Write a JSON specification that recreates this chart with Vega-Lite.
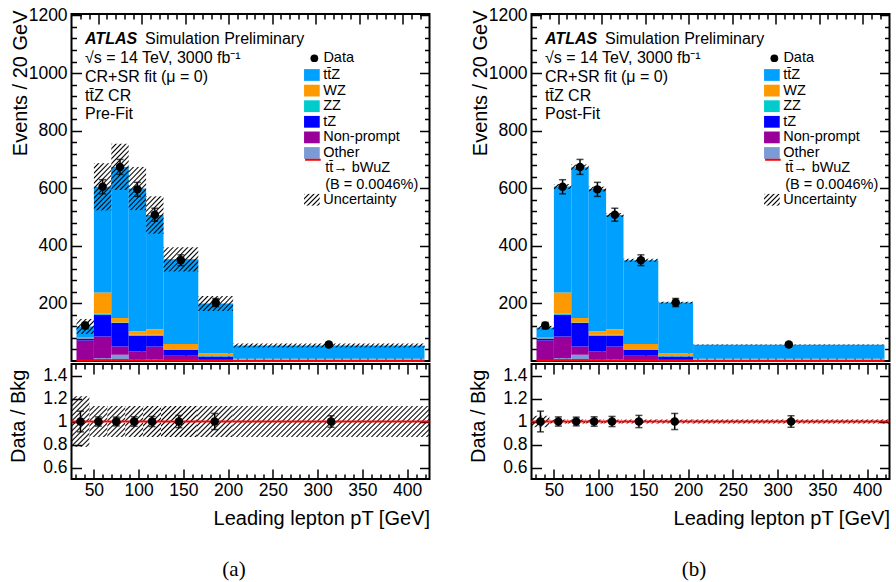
{
"$schema": "https://vega.github.io/schema/vega-lite/v6.json",
"background": "white",
"padding": {"left": 7.5, "top": 5, "right": 3, "bottom": 3},
"params": [{"name": "hs", "value": [
{"offset":0,"color":"#000"},{"offset":0.00625,"color":"#0000"},{"offset":0.01458,"color":"#0000"},
{"offset":0.02083,"color":"#000"},{"offset":0.02708,"color":"#0000"},{"offset":0.03542,"color":"#0000"},
{"offset":0.04167,"color":"#000"},{"offset":0.04792,"color":"#0000"},{"offset":0.05625,"color":"#0000"},
{"offset":0.0625,"color":"#000"},{"offset":0.06875,"color":"#0000"},{"offset":0.07708,"color":"#0000"},
{"offset":0.08333,"color":"#000"},{"offset":0.08958,"color":"#0000"},{"offset":0.09792,"color":"#0000"},
{"offset":0.10417,"color":"#000"},{"offset":0.11042,"color":"#0000"},{"offset":0.11875,"color":"#0000"},
{"offset":0.125,"color":"#000"},{"offset":0.13125,"color":"#0000"},{"offset":0.13958,"color":"#0000"},
{"offset":0.14583,"color":"#000"},{"offset":0.15208,"color":"#0000"},{"offset":0.16042,"color":"#0000"},
{"offset":0.16667,"color":"#000"},{"offset":0.17292,"color":"#0000"},{"offset":0.18125,"color":"#0000"},
{"offset":0.1875,"color":"#000"},{"offset":0.19375,"color":"#0000"},{"offset":0.20208,"color":"#0000"},
{"offset":0.20833,"color":"#000"},{"offset":0.21458,"color":"#0000"},{"offset":0.22292,"color":"#0000"},
{"offset":0.22917,"color":"#000"},{"offset":0.23542,"color":"#0000"},{"offset":0.24375,"color":"#0000"},
{"offset":0.25,"color":"#000"},{"offset":0.25625,"color":"#0000"},{"offset":0.26458,"color":"#0000"},
{"offset":0.27083,"color":"#000"},{"offset":0.27708,"color":"#0000"},{"offset":0.28542,"color":"#0000"},
{"offset":0.29167,"color":"#000"},{"offset":0.29792,"color":"#0000"},{"offset":0.30625,"color":"#0000"},
{"offset":0.3125,"color":"#000"},{"offset":0.31875,"color":"#0000"},{"offset":0.32708,"color":"#0000"},
{"offset":0.33333,"color":"#000"},{"offset":0.33958,"color":"#0000"},{"offset":0.34792,"color":"#0000"},
{"offset":0.35417,"color":"#000"},{"offset":0.36042,"color":"#0000"},{"offset":0.36875,"color":"#0000"},
{"offset":0.375,"color":"#000"},{"offset":0.38125,"color":"#0000"},{"offset":0.38958,"color":"#0000"},
{"offset":0.39583,"color":"#000"},{"offset":0.40208,"color":"#0000"},{"offset":0.41042,"color":"#0000"},
{"offset":0.41667,"color":"#000"},{"offset":0.42292,"color":"#0000"},{"offset":0.43125,"color":"#0000"},
{"offset":0.4375,"color":"#000"},{"offset":0.44375,"color":"#0000"},{"offset":0.45208,"color":"#0000"},
{"offset":0.45833,"color":"#000"},{"offset":0.46458,"color":"#0000"},{"offset":0.47292,"color":"#0000"},
{"offset":0.47917,"color":"#000"},{"offset":0.48542,"color":"#0000"},{"offset":0.49375,"color":"#0000"},
{"offset":0.5,"color":"#000"},{"offset":0.50625,"color":"#0000"},{"offset":0.51458,"color":"#0000"},
{"offset":0.52083,"color":"#000"},{"offset":0.52708,"color":"#0000"},{"offset":0.53542,"color":"#0000"},
{"offset":0.54167,"color":"#000"},{"offset":0.54792,"color":"#0000"},{"offset":0.55625,"color":"#0000"},
{"offset":0.5625,"color":"#000"},{"offset":0.56875,"color":"#0000"},{"offset":0.57708,"color":"#0000"},
{"offset":0.58333,"color":"#000"},{"offset":0.58958,"color":"#0000"},{"offset":0.59792,"color":"#0000"},
{"offset":0.60417,"color":"#000"},{"offset":0.61042,"color":"#0000"},{"offset":0.61875,"color":"#0000"},
{"offset":0.625,"color":"#000"},{"offset":0.63125,"color":"#0000"},{"offset":0.63958,"color":"#0000"},
{"offset":0.64583,"color":"#000"},{"offset":0.65208,"color":"#0000"},{"offset":0.66042,"color":"#0000"},
{"offset":0.66667,"color":"#000"},{"offset":0.67292,"color":"#0000"},{"offset":0.68125,"color":"#0000"},
{"offset":0.6875,"color":"#000"},{"offset":0.69375,"color":"#0000"},{"offset":0.70208,"color":"#0000"},
{"offset":0.70833,"color":"#000"},{"offset":0.71458,"color":"#0000"},{"offset":0.72292,"color":"#0000"},
{"offset":0.72917,"color":"#000"},{"offset":0.73542,"color":"#0000"},{"offset":0.74375,"color":"#0000"},
{"offset":0.75,"color":"#000"},{"offset":0.75625,"color":"#0000"},{"offset":0.76458,"color":"#0000"},
{"offset":0.77083,"color":"#000"},{"offset":0.77708,"color":"#0000"},{"offset":0.78542,"color":"#0000"},
{"offset":0.79167,"color":"#000"},{"offset":0.79792,"color":"#0000"},{"offset":0.80625,"color":"#0000"},
{"offset":0.8125,"color":"#000"},{"offset":0.81875,"color":"#0000"},{"offset":0.82708,"color":"#0000"},
{"offset":0.83333,"color":"#000"},{"offset":0.83958,"color":"#0000"},{"offset":0.84792,"color":"#0000"},
{"offset":0.85417,"color":"#000"},{"offset":0.86042,"color":"#0000"},{"offset":0.86875,"color":"#0000"},
{"offset":0.875,"color":"#000"},{"offset":0.88125,"color":"#0000"},{"offset":0.88958,"color":"#0000"},
{"offset":0.89583,"color":"#000"},{"offset":0.90208,"color":"#0000"},{"offset":0.91042,"color":"#0000"},
{"offset":0.91667,"color":"#000"},{"offset":0.92292,"color":"#0000"},{"offset":0.93125,"color":"#0000"},
{"offset":0.9375,"color":"#000"},{"offset":0.94375,"color":"#0000"},{"offset":0.95208,"color":"#0000"},
{"offset":0.95833,"color":"#000"},{"offset":0.96458,"color":"#0000"},{"offset":0.97292,"color":"#0000"},
{"offset":0.97917,"color":"#000"},{"offset":0.98542,"color":"#0000"},{"offset":0.99375,"color":"#0000"},
{"offset":1,"color":"#000"}
]}],
"datasets": {
"pre": [
{"lo":25,"hi":45,"p":"Other","o":1,"v":2},{"lo":25,"hi":45,"p":"Non-prompt","o":2,"v":69},{"lo":25,"hi":45,"p":"tZ","o":3,"v":7},{"lo":25,"hi":45,"p":"ZZ","o":4,"v":1},{"lo":25,"hi":45,"p":"WZ","o":5,"v":2},{"lo":25,"hi":45,"p":"tt\u0304Z","o":6,"v":39},
{"lo":45,"hi":65,"p":"Other","o":1,"v":10},{"lo":45,"hi":65,"p":"Non-prompt","o":2,"v":75},{"lo":45,"hi":65,"p":"tZ","o":3,"v":76},{"lo":45,"hi":65,"p":"ZZ","o":4,"v":3},{"lo":45,"hi":65,"p":"WZ","o":5,"v":74},{"lo":45,"hi":65,"p":"tt\u0304Z","o":6,"v":367},
{"lo":65,"hi":85,"p":"Other","o":1,"v":22},{"lo":65,"hi":85,"p":"Non-prompt","o":2,"v":28},{"lo":65,"hi":85,"p":"tZ","o":3,"v":82},{"lo":65,"hi":85,"p":"ZZ","o":4,"v":2},{"lo":65,"hi":85,"p":"WZ","o":5,"v":15},{"lo":65,"hi":85,"p":"tt\u0304Z","o":6,"v":525},
{"lo":85,"hi":105,"p":"Other","o":1,"v":5},{"lo":85,"hi":105,"p":"Non-prompt","o":2,"v":28},{"lo":85,"hi":105,"p":"tZ","o":3,"v":55},{"lo":85,"hi":105,"p":"ZZ","o":4,"v":3},{"lo":85,"hi":105,"p":"WZ","o":5,"v":12},{"lo":85,"hi":105,"p":"tt\u0304Z","o":6,"v":496},
{"lo":105,"hi":125,"p":"Other","o":1,"v":6},{"lo":105,"hi":125,"p":"Non-prompt","o":2,"v":44},{"lo":105,"hi":125,"p":"tZ","o":3,"v":38},{"lo":105,"hi":125,"p":"ZZ","o":4,"v":3},{"lo":105,"hi":125,"p":"WZ","o":5,"v":19},{"lo":105,"hi":125,"p":"tt\u0304Z","o":6,"v":397},
{"lo":125,"hi":165,"p":"Other","o":1,"v":3},{"lo":125,"hi":165,"p":"Non-prompt","o":2,"v":15},{"lo":125,"hi":165,"p":"tZ","o":3,"v":21},{"lo":125,"hi":165,"p":"ZZ","o":4,"v":2},{"lo":125,"hi":165,"p":"WZ","o":5,"v":18},{"lo":125,"hi":165,"p":"tt\u0304Z","o":6,"v":294},
{"lo":165,"hi":205,"p":"Other","o":1,"v":1},{"lo":165,"hi":205,"p":"Non-prompt","o":2,"v":6},{"lo":165,"hi":205,"p":"tZ","o":3,"v":9},{"lo":165,"hi":205,"p":"ZZ","o":4,"v":1},{"lo":165,"hi":205,"p":"WZ","o":5,"v":10},{"lo":165,"hi":205,"p":"tt\u0304Z","o":6,"v":173},
{"lo":205,"hi":425,"p":"Other","o":1,"v":0.5},{"lo":205,"hi":425,"p":"Non-prompt","o":2,"v":2},{"lo":205,"hi":425,"p":"tZ","o":3,"v":2},{"lo":205,"hi":425,"p":"ZZ","o":4,"v":0.5},{"lo":205,"hi":425,"p":"WZ","o":5,"v":3},{"lo":205,"hi":425,"p":"tt\u0304Z","o":6,"v":46}
],
"post": [
{"lo":25,"hi":45,"p":"Other","o":1,"v":2},{"lo":25,"hi":45,"p":"Non-prompt","o":2,"v":69},{"lo":25,"hi":45,"p":"tZ","o":3,"v":7},{"lo":25,"hi":45,"p":"ZZ","o":4,"v":1},{"lo":25,"hi":45,"p":"WZ","o":5,"v":2},{"lo":25,"hi":45,"p":"tt\u0304Z","o":6,"v":35},
{"lo":45,"hi":65,"p":"Other","o":1,"v":10},{"lo":45,"hi":65,"p":"Non-prompt","o":2,"v":75},{"lo":45,"hi":65,"p":"tZ","o":3,"v":76},{"lo":45,"hi":65,"p":"ZZ","o":4,"v":3},{"lo":45,"hi":65,"p":"WZ","o":5,"v":74},{"lo":45,"hi":65,"p":"tt\u0304Z","o":6,"v":368},
{"lo":65,"hi":85,"p":"Other","o":1,"v":22},{"lo":65,"hi":85,"p":"Non-prompt","o":2,"v":28},{"lo":65,"hi":85,"p":"tZ","o":3,"v":82},{"lo":65,"hi":85,"p":"ZZ","o":4,"v":2},{"lo":65,"hi":85,"p":"WZ","o":5,"v":15},{"lo":65,"hi":85,"p":"tt\u0304Z","o":6,"v":524},
{"lo":85,"hi":105,"p":"Other","o":1,"v":5},{"lo":85,"hi":105,"p":"Non-prompt","o":2,"v":28},{"lo":85,"hi":105,"p":"tZ","o":3,"v":55},{"lo":85,"hi":105,"p":"ZZ","o":4,"v":3},{"lo":85,"hi":105,"p":"WZ","o":5,"v":12},{"lo":85,"hi":105,"p":"tt\u0304Z","o":6,"v":494},
{"lo":105,"hi":125,"p":"Other","o":1,"v":6},{"lo":105,"hi":125,"p":"Non-prompt","o":2,"v":44},{"lo":105,"hi":125,"p":"tZ","o":3,"v":38},{"lo":105,"hi":125,"p":"ZZ","o":4,"v":3},{"lo":105,"hi":125,"p":"WZ","o":5,"v":19},{"lo":105,"hi":125,"p":"tt\u0304Z","o":6,"v":397},
{"lo":125,"hi":165,"p":"Other","o":1,"v":3},{"lo":125,"hi":165,"p":"Non-prompt","o":2,"v":15},{"lo":125,"hi":165,"p":"tZ","o":3,"v":21},{"lo":125,"hi":165,"p":"ZZ","o":4,"v":2},{"lo":125,"hi":165,"p":"WZ","o":5,"v":18},{"lo":125,"hi":165,"p":"tt\u0304Z","o":6,"v":291},
{"lo":165,"hi":205,"p":"Other","o":1,"v":1},{"lo":165,"hi":205,"p":"Non-prompt","o":2,"v":6},{"lo":165,"hi":205,"p":"tZ","o":3,"v":9},{"lo":165,"hi":205,"p":"ZZ","o":4,"v":1},{"lo":165,"hi":205,"p":"WZ","o":5,"v":10},{"lo":165,"hi":205,"p":"tt\u0304Z","o":6,"v":176},
{"lo":205,"hi":425,"p":"Other","o":1,"v":0.5},{"lo":205,"hi":425,"p":"Non-prompt","o":2,"v":2},{"lo":205,"hi":425,"p":"tZ","o":3,"v":2},{"lo":205,"hi":425,"p":"ZZ","o":4,"v":0.5},{"lo":205,"hi":425,"p":"WZ","o":5,"v":3},{"lo":205,"hi":425,"p":"tt\u0304Z","o":6,"v":48}
],
"upre": [
{"b":1,"lo":25,"hi":45,"yl":94,"yh":146,"rl":0.78,"rh":1.22},
{"b":2,"lo":45,"hi":65,"yl":523,"yh":687,"rl":0.865,"rh":1.135},
{"b":3,"lo":65,"hi":85,"yl":594,"yh":754,"rl":0.865,"rh":1.135},
{"b":4,"lo":85,"hi":105,"yl":524,"yh":674,"rl":0.865,"rh":1.135},
{"b":5,"lo":105,"hi":125,"yl":442,"yh":572,"rl":0.865,"rh":1.135},
{"b":6,"lo":125,"hi":165,"yl":311,"yh":395,"rl":0.865,"rh":1.135},
{"b":7,"lo":165,"hi":205,"yl":174,"yh":226,"rl":0.865,"rh":1.135},
{"b":8,"lo":205,"hi":425,"yl":47,"yh":61,"rl":0.865,"rh":1.135}
],
"upost": [
{"b":1,"lo":25,"hi":45,"yl":110,"yh":122,"rl":0.95,"rh":1.05},
{"b":2,"lo":45,"hi":65,"yl":597.5,"yh":614.5,"rl":0.983,"rh":1.017},
{"b":3,"lo":65,"hi":85,"yl":663.5,"yh":682.5,"rl":0.983,"rh":1.017},
{"b":4,"lo":85,"hi":105,"yl":588.6,"yh":605.4,"rl":0.983,"rh":1.017},
{"b":5,"lo":105,"hi":125,"yl":500,"yh":514,"rl":0.983,"rh":1.017},
{"b":6,"lo":125,"hi":165,"yl":345,"yh":355,"rl":0.983,"rh":1.017},
{"b":7,"lo":165,"hi":205,"yl":200,"yh":206,"rl":0.983,"rh":1.017},
{"b":8,"lo":205,"hi":425,"yl":55,"yh":57,"rl":0.983,"rh":1.017}
],
"obs": [
{"x":35,"n":123,"lo":111.9,"hi":134.1,"r":1,"rl":0.91,"rh":1.09},
{"x":55,"n":605,"lo":580.4,"hi":629.6,"r":1,"rl":0.96,"rh":1.04},
{"x":75,"n":674,"lo":648,"hi":700,"r":1,"rl":0.962,"rh":1.038},
{"x":95,"n":596,"lo":571.6,"hi":620.4,"r":1,"rl":0.959,"rh":1.041},
{"x":115,"n":508,"lo":485.5,"hi":530.5,"r":1,"rl":0.956,"rh":1.044},
{"x":145,"n":350,"lo":331.3,"hi":368.7,"r":1,"rl":0.947,"rh":1.053},
{"x":185,"n":203,"lo":188.8,"hi":217.2,"r":1,"rl":0.93,"rh":1.07},
{"x":315,"n":57,"lo":49.5,"hi":64.5,"r":1,"rl":0.95,"rh":1.05}
],
"sig": [
{"lo":25,"hi":45,"v":1.5,"r":1},{"lo":45,"hi":65,"v":3,"r":1},{"lo":65,"hi":85,"v":3,"r":1},{"lo":85,"hi":105,"v":2.5,"r":1},
{"lo":105,"hi":125,"v":2,"r":1},{"lo":125,"hi":165,"v":1.5,"r":1},{"lo":165,"hi":205,"v":1,"r":1},{"lo":205,"hi":425,"v":0.3,"r":1}
]
},
"resolve": {"scale": {"fill": "independent", "shape": "independent", "stroke": "independent", "opacity": "independent"}},
"spacing": 36,
"hconcat": [
{
"resolve": {"scale": {"fill": "independent", "shape": "independent", "stroke": "independent", "opacity": "independent"}},
"bounds": "flush",
"spacing": 3,
"title": {"text": "(a)", "orient": "bottom", "anchor": "middle", "frame": "bounds", "offset": 30, "dx": 14.5, "font": "Liberation Serif", "fontSize": 21, "fontWeight": "normal", "color": "black"},
"vconcat": [
{
"width": 358, "height": 347,
"title": {"text": "ATLAS", "subtitle": ["\u200b\u2003\u2003\u2003\u2002\u2005Simulation Preliminary", "\u221as = 14 TeV, 3000 fb\u207b\u00b9", "CR+SR fit (\u03bc = 0)", "tt\u0304Z CR", "Pre-Fit"], "orient": "top", "anchor": "start", "frame": "group", "offset": -116, "dx": 13.5, "font": "Liberation Sans", "fontSize": 16, "fontStyle": "italic", "fontWeight": "bold", "color": "black", "lineHeight": 16, "subtitleFont": "Liberation Sans", "subtitleFontSize": 16, "subtitleColor": "black", "subtitleFontWeight": "normal", "subtitleFontStyle": "normal", "subtitleLineHeight": 18.8, "subtitlePadding": -16},
"resolve": {"axis": {"x": "independent", "y": "independent"}},
"layer": [
{"data": {"name": "pre"}, "mark": {"type": "bar", "orient": "vertical"}, "encoding": {
"x": {"field": "lo", "type": "quantitative", "scale": {"domain": [25, 425], "nice": false, "zero": false}, "axis": {"orient": "bottom", "values": [50,100,150,200,250,300,350,400], "labels": false, "tickSize": -10, "title": null}},
"x2": {"field": "hi"},
"y": {"field": "v", "type": "quantitative", "stack": "zero", "scale": {"domain": [0, 1205], "nice": false, "zero": false}, "axis": {"orient": "left", "values": [200,400,600,800,1000,1200], "format": "d", "tickSize": -10, "labelPadding": 14.4, "title": "Events / 20 GeV", "titleAnchor": "end", "titleAlign": "right", "titleX": -45, "titleY": -4, "titleBaseline": "alphabetic"}},
"fill": {"field": "p", "type": "nominal", "scale": {"domain": ["tt\u0304Z","WZ","ZZ","tZ","Non-prompt","Other"], "range": ["#00a0ff","#ff9900","#00cccc","#0000ff","#990099","#7b9bd4"]}, "legend": {"title": null, "orient": "none", "legendX": 232.4, "legendY": 53, "symbolType": "M-1,-0.75H1V0.75H-1Z", "symbolSize": 246, "symbolStrokeWidth": 0, "labelOffset": 3.3}},
"order": {"field": "o", "type": "quantitative"}}},
{"data": {"name": "upre"}, "mark": {"type": "rect"}, "encoding": {
"x": {"field": "lo", "type": "quantitative", "scale": {"domain": [25, 425], "nice": false, "zero": false}, "axis": {"orient": "top", "values": [50,100,150,200,250,300,350,400], "labels": false, "tickSize": -10, "title": null}},
"x2": {"field": "hi"},
"y": {"field": "yl", "type": "quantitative", "scale": {"domain": [0, 1205], "nice": false, "zero": false}, "axis": {"orient": "right", "values": [200,400,600,800,1000,1200], "labels": false, "tickSize": -10, "title": null}},
"y2": {"field": "yh"},
"fill": {"value": {"expr": "{gradient:'linear',x1:0,y1:0,x2:datum.b?[0,7.92,1.69,1.76,1.97,2.51,4.61,5.71,1.218][datum.b]:9.83,y2:datum.b?[0,6.59,4.45,4.53,4.75,5.23,3.11,2.38,0.025][datum.b]:7.32,stops:hs}"}},
"opacity": {"datum": "Uncertainty", "type": "nominal", "scale": {"type": "ordinal", "range": [1]}, "legend": {"title": null, "orient": "none", "legendX": 232.4, "legendY": 177.75, "symbolType": "M-1,-0.75H1V0.75H-1Z", "symbolSize": 246, "symbolStrokeWidth": 0, "labelOffset": 3.3}}}},
{"data": {"name": "sig"}, "mark": {"type": "rule", "strokeWidth": 2}, "encoding": {
"x": {"field": "lo", "type": "quantitative", "scale": {"domain": [25, 425], "nice": false, "zero": false}, "axis": {"orient": "bottom", "values": [30,40,60,70,80,90,110,120,130,140,160,170,180,190,210,220,230,240,260,270,280,290,310,320,330,340,360,370,380,390,410,420], "labels": false, "tickSize": -5, "title": null}},
"x2": {"field": "hi"},
"y": {"field": "v", "type": "quantitative", "scale": {"domain": [0, 1205], "nice": false, "zero": false}, "axis": {"orient": "left", "values": [40,80,120,160,240,280,320,360,440,480,520,560,640,680,720,760,840,880,920,960,1040,1080,1120,1160], "labels": false, "tickSize": -5, "title": null}},
"stroke": {"datum": "tt\u0304\u2192 bWuZ", "type": "nominal", "scale": {"range": ["#ff0000"]}, "legend": {"title": null, "orient": "none", "legendX": 232.4, "legendY": 145, "symbolType": "M-1,-1.05L1,-1.05", "symbolSize": 246, "symbolStrokeWidth": 2, "labelOffset": 3.3, "labelExpr": "['tt\u0304\u2192 bWuZ', '(B = 0.0046%)']"}}}},
{"data": {"name": "obs"}, "mark": {"type": "errorbar", "color": "black", "thickness": 1.5, "ticks": {"size": 7, "thickness": 1.5, "color": "black"}}, "encoding": {
"x": {"field": "x", "type": "quantitative", "scale": {"domain": [25, 425], "nice": false, "zero": false}, "axis": null},
"y": {"field": "lo", "type": "quantitative", "scale": {"domain": [0, 1205], "nice": false, "zero": false}, "axis": null},
"y2": {"field": "hi"}}},
{"data": {"name": "obs"}, "mark": {"type": "point", "filled": true, "size": 72, "color": "black", "opacity": 1}, "encoding": {
"x": {"field": "x", "type": "quantitative", "scale": {"domain": [25, 425], "nice": false, "zero": false}, "axis": {"orient": "top", "values": [30,40,60,70,80,90,110,120,130,140,160,170,180,190,210,220,230,240,260,270,280,290,310,320,330,340,360,370,380,390,410,420], "labels": false, "tickSize": -5, "title": null}},
"y": {"field": "n", "type": "quantitative", "scale": {"domain": [0, 1205], "nice": false, "zero": false}, "axis": {"orient": "right", "values": [40,80,120,160,240,280,320,360,440,480,520,560,640,680,720,760,840,880,920,960,1040,1080,1120,1160], "labels": false, "tickSize": -5, "title": null}},
"shape": {"datum": "Data", "type": "nominal", "scale": {"range": ["circle"]}, "legend": {"title": null, "orient": "none", "legendX": 235.6, "legendY": 37, "symbolSize": 60, "symbolFillColor": "black", "symbolStrokeColor": "black", "symbolStrokeWidth": 0, "symbolOpacity": 1, "labelOffset": 1.8}}}}
]
},
{
"width": 358, "height": 115,
"resolve": {"axis": {"x": "independent", "y": "independent"}},
"layer": [
{"data": {"name": "upre"}, "mark": {"type": "rect"}, "encoding": {
"x": {"field": "lo", "type": "quantitative", "scale": {"domain": [25, 425], "nice": false, "zero": false}, "axis": {"orient": "bottom", "values": [50,100,150,200,250,300,350,400], "tickSize": -10, "labelPadding": 12.5, "title": "Leading lepton pT [GeV]", "titleAnchor": "end", "titleAlign": "right", "titleY": 45, "titleBaseline": "alphabetic"}},
"x2": {"field": "hi"},
"y": {"field": "rl", "type": "quantitative", "scale": {"domain": [0.5, 1.5], "nice": false, "zero": false}, "axis": {"orient": "left", "values": [0.6,0.8,1,1.2,1.4], "format": "~g", "tickSize": -10, "labelPadding": 14.4, "title": "Data / Bkg", "titleAnchor": "end", "titleAlign": "right", "titleX": -47, "titleY": 5, "titleBaseline": "alphabetic"}},
"y2": {"field": "rh"},
"fill": {"value": {"expr": "{gradient:'linear',x1:0,y1:0,x2:[0,1.49,3.35,3.35,3.35,3.35,3.83,3.83,1.189][datum.b],y2:[0,4.22,5.8,5.8,5.8,5.8,3.32,3.32,0.188][datum.b],stops:hs}"}}}},
{"data": {"name": "sig"}, "mark": {"type": "rule", "color": "#ff0000", "strokeWidth": 2}, "encoding": {
"x": {"field": "lo", "type": "quantitative", "scale": {"domain": [25, 425], "nice": false, "zero": false}, "axis": {"orient": "top", "values": [50,100,150,200,250,300,350,400], "labels": false, "tickSize": -10, "title": null}},
"x2": {"field": "hi"},
"y": {"field": "r", "type": "quantitative", "scale": {"domain": [0.5, 1.5], "nice": false, "zero": false}, "axis": {"orient": "right", "values": [0.6,0.8,1,1.2,1.4], "labels": false, "tickSize": -10, "title": null}}}},
{"data": {"name": "obs"}, "mark": {"type": "errorbar", "color": "black", "thickness": 1.5, "ticks": {"size": 7, "thickness": 1.5, "color": "black"}}, "encoding": {
"x": {"field": "x", "type": "quantitative", "scale": {"domain": [25, 425], "nice": false, "zero": false}, "axis": {"orient": "top", "values": [30,40,60,70,80,90,110,120,130,140,160,170,180,190,210,220,230,240,260,270,280,290,310,320,330,340,360,370,380,390,410,420], "labels": false, "tickSize": -5, "title": null}},
"y": {"field": "rl", "type": "quantitative", "scale": {"domain": [0.5, 1.5], "nice": false, "zero": false}, "axis": null},
"y2": {"field": "rh"}}},
{"data": {"name": "obs"}, "mark": {"type": "point", "filled": true, "size": 72, "color": "black", "opacity": 1}, "encoding": {
"x": {"field": "x", "type": "quantitative", "scale": {"domain": [25, 425], "nice": false, "zero": false}, "axis": {"orient": "bottom", "values": [30,40,60,70,80,90,110,120,130,140,160,170,180,190,210,220,230,240,260,270,280,290,310,320,330,340,360,370,380,390,410,420], "labels": false, "tickSize": -5, "title": null}},
"y": {"field": "r", "type": "quantitative", "scale": {"domain": [0.5, 1.5], "nice": false, "zero": false}, "axis": null}}}
]
}
]
},
{
"resolve": {"scale": {"fill": "independent", "shape": "independent", "stroke": "independent", "opacity": "independent"}},
"bounds": "flush",
"spacing": 3,
"title": {"text": "(b)", "orient": "bottom", "anchor": "middle", "frame": "bounds", "offset": 30, "dx": 14.5, "font": "Liberation Serif", "fontSize": 21, "fontWeight": "normal", "color": "black"},
"vconcat": [
{
"width": 358, "height": 347,
"title": {"text": "ATLAS", "subtitle": ["\u200b\u2003\u2003\u2003\u2002\u2005Simulation Preliminary", "\u221as = 14 TeV, 3000 fb\u207b\u00b9", "CR+SR fit (\u03bc = 0)", "tt\u0304Z CR", "Post-Fit"], "orient": "top", "anchor": "start", "frame": "group", "offset": -116, "dx": 13.5, "font": "Liberation Sans", "fontSize": 16, "fontStyle": "italic", "fontWeight": "bold", "color": "black", "lineHeight": 16, "subtitleFont": "Liberation Sans", "subtitleFontSize": 16, "subtitleColor": "black", "subtitleFontWeight": "normal", "subtitleFontStyle": "normal", "subtitleLineHeight": 18.8, "subtitlePadding": -16},
"resolve": {"axis": {"x": "independent", "y": "independent"}},
"layer": [
{"data": {"name": "post"}, "mark": {"type": "bar", "orient": "vertical"}, "encoding": {
"x": {"field": "lo", "type": "quantitative", "scale": {"domain": [25, 425], "nice": false, "zero": false}, "axis": {"orient": "bottom", "values": [50,100,150,200,250,300,350,400], "labels": false, "tickSize": -10, "title": null}},
"x2": {"field": "hi"},
"y": {"field": "v", "type": "quantitative", "stack": "zero", "scale": {"domain": [0, 1205], "nice": false, "zero": false}, "axis": {"orient": "left", "values": [200,400,600,800,1000,1200], "format": "d", "tickSize": -10, "labelPadding": 14.4, "title": "Events / 20 GeV", "titleAnchor": "end", "titleAlign": "right", "titleX": -45, "titleY": -4, "titleBaseline": "alphabetic"}},
"fill": {"field": "p", "type": "nominal", "scale": {"domain": ["tt\u0304Z","WZ","ZZ","tZ","Non-prompt","Other"], "range": ["#00a0ff","#ff9900","#00cccc","#0000ff","#990099","#7b9bd4"]}, "legend": {"title": null, "orient": "none", "legendX": 232.4, "legendY": 53, "symbolType": "M-1,-0.75H1V0.75H-1Z", "symbolSize": 246, "symbolStrokeWidth": 0, "labelOffset": 3.3}},
"order": {"field": "o", "type": "quantitative"}}},
{"data": {"name": "upost"}, "mark": {"type": "rect"}, "encoding": {
"x": {"field": "lo", "type": "quantitative", "scale": {"domain": [25, 425], "nice": false, "zero": false}, "axis": {"orient": "top", "values": [50,100,150,200,250,300,350,400], "labels": false, "tickSize": -10, "title": null}},
"x2": {"field": "hi"},
"y": {"field": "yl", "type": "quantitative", "scale": {"domain": [0, 1205], "nice": false, "zero": false}, "axis": {"orient": "right", "values": [200,400,600,800,1000,1200], "labels": false, "tickSize": -10, "title": null}},
"y2": {"field": "yh"},
"fill": {"value": {"expr": "{gradient:'linear',x1:0,y1:0,x2:datum.b?[0,12.93,12.48,12.27,12.5,12.77,6.66,6.69,1.219][datum.b]:9.83,y2:datum.b?[0,2.49,3.4,3.74,3.35,2.85,0.54,0.32,0.0037][datum.b]:7.32,stops:hs}"}},
"opacity": {"datum": "Uncertainty", "type": "nominal", "scale": {"type": "ordinal", "range": [1]}, "legend": {"title": null, "orient": "none", "legendX": 232.4, "legendY": 177.75, "symbolType": "M-1,-0.75H1V0.75H-1Z", "symbolSize": 246, "symbolStrokeWidth": 0, "labelOffset": 3.3}}}},
{"data": {"name": "sig"}, "mark": {"type": "rule", "strokeWidth": 2}, "encoding": {
"x": {"field": "lo", "type": "quantitative", "scale": {"domain": [25, 425], "nice": false, "zero": false}, "axis": {"orient": "bottom", "values": [30,40,60,70,80,90,110,120,130,140,160,170,180,190,210,220,230,240,260,270,280,290,310,320,330,340,360,370,380,390,410,420], "labels": false, "tickSize": -5, "title": null}},
"x2": {"field": "hi"},
"y": {"field": "v", "type": "quantitative", "scale": {"domain": [0, 1205], "nice": false, "zero": false}, "axis": {"orient": "left", "values": [40,80,120,160,240,280,320,360,440,480,520,560,640,680,720,760,840,880,920,960,1040,1080,1120,1160], "labels": false, "tickSize": -5, "title": null}},
"stroke": {"datum": "tt\u0304\u2192 bWuZ", "type": "nominal", "scale": {"range": ["#ff0000"]}, "legend": {"title": null, "orient": "none", "legendX": 232.4, "legendY": 145, "symbolType": "M-1,-1.05L1,-1.05", "symbolSize": 246, "symbolStrokeWidth": 2, "labelOffset": 3.3, "labelExpr": "['tt\u0304\u2192 bWuZ', '(B = 0.0046%)']"}}}},
{"data": {"name": "obs"}, "mark": {"type": "errorbar", "color": "black", "thickness": 1.5, "ticks": {"size": 7, "thickness": 1.5, "color": "black"}}, "encoding": {
"x": {"field": "x", "type": "quantitative", "scale": {"domain": [25, 425], "nice": false, "zero": false}, "axis": null},
"y": {"field": "lo", "type": "quantitative", "scale": {"domain": [0, 1205], "nice": false, "zero": false}, "axis": null},
"y2": {"field": "hi"}}},
{"data": {"name": "obs"}, "mark": {"type": "point", "filled": true, "size": 72, "color": "black", "opacity": 1}, "encoding": {
"x": {"field": "x", "type": "quantitative", "scale": {"domain": [25, 425], "nice": false, "zero": false}, "axis": {"orient": "top", "values": [30,40,60,70,80,90,110,120,130,140,160,170,180,190,210,220,230,240,260,270,280,290,310,320,330,340,360,370,380,390,410,420], "labels": false, "tickSize": -5, "title": null}},
"y": {"field": "n", "type": "quantitative", "scale": {"domain": [0, 1205], "nice": false, "zero": false}, "axis": {"orient": "right", "values": [40,80,120,160,240,280,320,360,440,480,520,560,640,680,720,760,840,880,920,960,1040,1080,1120,1160], "labels": false, "tickSize": -5, "title": null}},
"shape": {"datum": "Data", "type": "nominal", "scale": {"range": ["circle"]}, "legend": {"title": null, "orient": "none", "legendX": 235.6, "legendY": 37, "symbolSize": 60, "symbolFillColor": "black", "symbolStrokeColor": "black", "symbolStrokeWidth": 0, "symbolOpacity": 1, "labelOffset": 1.8}}}}
]
},
{
"width": 358, "height": 115,
"resolve": {"axis": {"x": "independent", "y": "independent"}},
"layer": [
{"data": {"name": "upost"}, "mark": {"type": "rect"}, "encoding": {
"x": {"field": "lo", "type": "quantitative", "scale": {"domain": [25, 425], "nice": false, "zero": false}, "axis": {"orient": "bottom", "values": [50,100,150,200,250,300,350,400], "tickSize": -10, "labelPadding": 12.5, "title": "Leading lepton pT [GeV]", "titleAnchor": "end", "titleAlign": "right", "titleY": 45, "titleBaseline": "alphabetic"}},
"x2": {"field": "hi"},
"y": {"field": "rl", "type": "quantitative", "scale": {"domain": [0.5, 1.5], "nice": false, "zero": false}, "axis": {"orient": "left", "values": [0.6,0.8,1,1.2,1.4], "format": "~g", "tickSize": -10, "labelPadding": 14.4, "title": "Data / Bkg", "titleAnchor": "end", "titleAlign": "right", "titleX": -47, "titleY": 5, "titleBaseline": "alphabetic"}},
"y2": {"field": "rh"},
"fill": {"value": {"expr": "{gradient:'linear',x1:0,y1:0,x2:[0,9.49,12.8,12.8,12.8,12.8,6.63,6.63,1.218][datum.b],y2:[0,6.1,2.79,2.79,2.79,2.79,0.72,0.72,0.024][datum.b],stops:hs}"}}}},
{"data": {"name": "sig"}, "mark": {"type": "rule", "color": "#ff0000", "strokeWidth": 2}, "encoding": {
"x": {"field": "lo", "type": "quantitative", "scale": {"domain": [25, 425], "nice": false, "zero": false}, "axis": {"orient": "top", "values": [50,100,150,200,250,300,350,400], "labels": false, "tickSize": -10, "title": null}},
"x2": {"field": "hi"},
"y": {"field": "r", "type": "quantitative", "scale": {"domain": [0.5, 1.5], "nice": false, "zero": false}, "axis": {"orient": "right", "values": [0.6,0.8,1,1.2,1.4], "labels": false, "tickSize": -10, "title": null}}}},
{"data": {"name": "obs"}, "mark": {"type": "errorbar", "color": "black", "thickness": 1.5, "ticks": {"size": 7, "thickness": 1.5, "color": "black"}}, "encoding": {
"x": {"field": "x", "type": "quantitative", "scale": {"domain": [25, 425], "nice": false, "zero": false}, "axis": {"orient": "top", "values": [30,40,60,70,80,90,110,120,130,140,160,170,180,190,210,220,230,240,260,270,280,290,310,320,330,340,360,370,380,390,410,420], "labels": false, "tickSize": -5, "title": null}},
"y": {"field": "rl", "type": "quantitative", "scale": {"domain": [0.5, 1.5], "nice": false, "zero": false}, "axis": null},
"y2": {"field": "rh"}}},
{"data": {"name": "obs"}, "mark": {"type": "point", "filled": true, "size": 72, "color": "black", "opacity": 1}, "encoding": {
"x": {"field": "x", "type": "quantitative", "scale": {"domain": [25, 425], "nice": false, "zero": false}, "axis": {"orient": "bottom", "values": [30,40,60,70,80,90,110,120,130,140,160,170,180,190,210,220,230,240,260,270,280,290,310,320,330,340,360,370,380,390,410,420], "labels": false, "tickSize": -5, "title": null}},
"y": {"field": "r", "type": "quantitative", "scale": {"domain": [0.5, 1.5], "nice": false, "zero": false}, "axis": null}}}
]
}
]
}
],
"config": {
"font": "Liberation Sans",
"view": {"stroke": "black", "strokeWidth": 2},
"axis": {"domain": false, "grid": false, "tickColor": "black", "tickWidth": 1.5, "labelColor": "black", "labelFont": "Liberation Sans", "labelFontSize": 17.5, "labelFlush": false, "labelOverlap": false, "titleColor": "black", "titleFont": "Liberation Sans", "titleFontSize": 20, "titleFontWeight": "normal"},
"legend": {"labelFont": "Liberation Sans", "labelFontSize": 14.5, "labelColor": "black", "padding": 0, "rowPadding": 0.6, "labelLimit": 0}
}
}
